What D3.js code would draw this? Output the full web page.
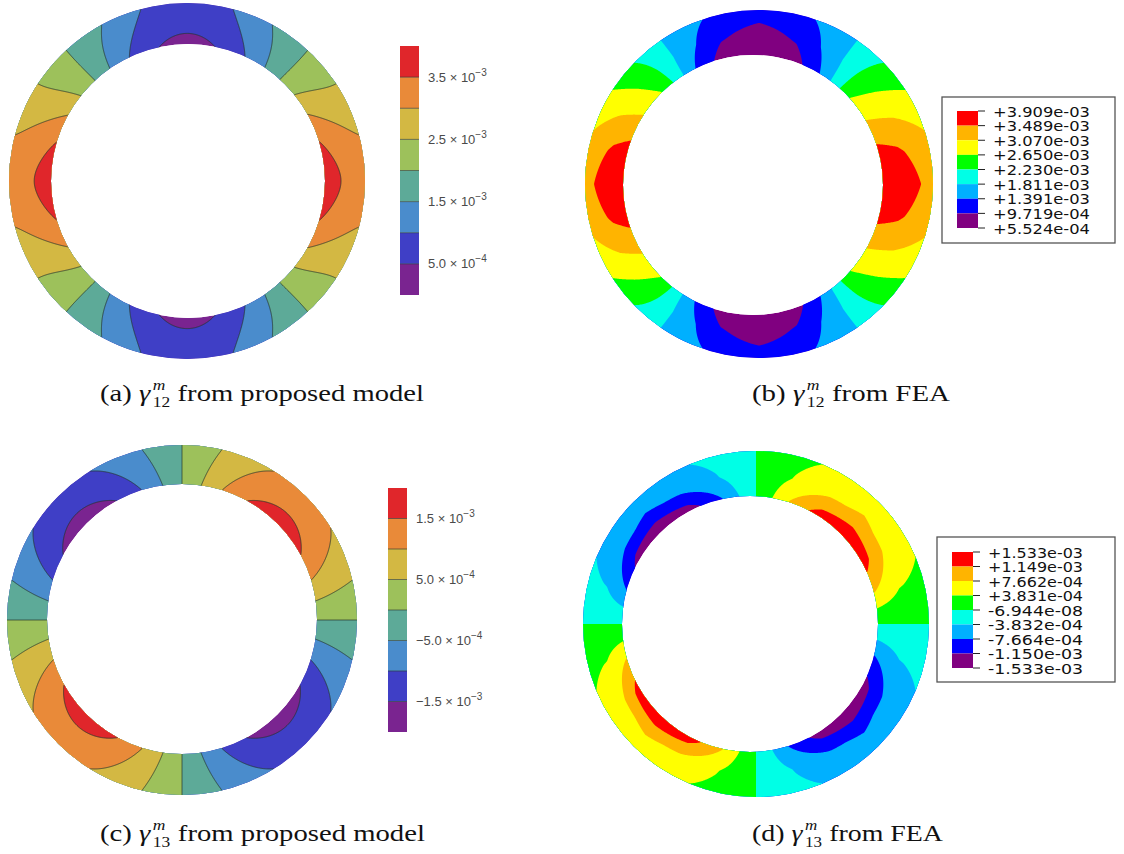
<!DOCTYPE html>
<html>
<head>
<meta charset="utf-8">
<script src="https://cdn.jsdelivr.net/npm/d3@7"></script>
<style>
  body { margin: 0; background: #fff; }
  .cap { font-family: "Liberation Serif", "DejaVu Serif", serif; font-size: 23px; fill: #111; }
  .capsm { font-family: "Liberation Serif", "DejaVu Serif", serif; font-size: 14px; fill: #111; }
  .cbar { font-family: "Liberation Sans", Arial, sans-serif; font-size: 13px; fill: #4a4a4a; }
  .leg { font-family: "DejaVu Sans", Verdana, sans-serif; font-size: 14.5px; fill: #111; }
</style>
</head>
<body>
<svg id="fig" width="1124" height="854"></svg>
<script>
// angular positions of the read-off nodes (deg, counter-clockwise from +x)
const nodeAngles = [0, 15, 30, 45, 60, 75, 90, 105, 120, 135, 150, 165,
                    180, 195, 210, 225, 240, 255, 270, 285, 300, 315, 330, 345];

// (a) gamma12, proposed model  (x 1e-3) : inner edge / mid-thickness / outer edge
const g12ModelInner = [3.80, 3.55, 2.95, 2.15, 1.25, 0.60, 0.30, 0.60, 1.25, 2.15, 2.95, 3.55,
                       3.80, 3.55, 2.95, 2.15, 1.25, 0.60, 0.30, 0.60, 1.25, 2.15, 2.95, 3.55];
const g12ModelMid   = [3.45, 3.20, 2.70, 2.10, 1.40, 0.85, 0.65, 0.85, 1.40, 2.10, 2.70, 3.20,
                       3.45, 3.20, 2.70, 2.10, 1.40, 0.85, 0.65, 0.85, 1.40, 2.10, 2.70, 3.20];
const g12ModelOuter = [3.35, 3.00, 2.60, 2.08, 1.55, 1.00, 0.85, 1.00, 1.55, 2.08, 2.60, 3.00,
                       3.35, 3.00, 2.60, 2.08, 1.55, 1.00, 0.85, 1.00, 1.55, 2.08, 2.60, 3.00];
const g12ModelLevels = [0, 0.5, 1.0, 1.5, 2.0, 2.5, 3.0, 3.5, 4.0];
const g12ModelTicks = [3.5, 2.5, 1.5, 0.5];
const g12ModelTickMant = ["3.5", "2.5", "1.5", "5.0"];
const g12ModelTickExp = ["\u22123", "\u22123", "\u22123", "\u22124"];

// (b) gamma12, FEA (x 1e-3)
const g12FeaInner = [3.95, 3.62, 3.10, 2.60, 1.45, 0.73, 0.60, 0.73, 1.45, 2.60, 3.10, 3.62,
                     3.95, 3.62, 3.10, 2.60, 1.45, 0.73, 0.60, 0.73, 1.45, 2.60, 3.10, 3.62];
const g12FeaMid   = [3.70, 3.45, 2.95, 2.40, 1.60, 1.05, 0.80, 1.05, 1.60, 2.40, 2.95, 3.45,
                     3.70, 3.45, 2.95, 2.40, 1.60, 1.05, 0.80, 1.05, 1.60, 2.40, 2.95, 3.45];
const g12FeaOuter = [3.30, 3.15, 2.75, 2.20, 1.65, 1.30, 1.20, 1.30, 1.65, 2.20, 2.75, 3.15,
                     3.30, 3.15, 2.75, 2.20, 1.65, 1.30, 1.20, 1.30, 1.65, 2.20, 2.75, 3.15];
const g12FeaLevels = [0.5524, 0.9719, 1.391, 1.811, 2.230, 2.650, 3.070, 3.489, 3.909];
const g12FeaLabels = ["+3.909e-03", "+3.489e-03", "+3.070e-03", "+2.650e-03", "+2.230e-03",
                      "+1.811e-03", "+1.391e-03", "+9.719e-04", "+5.524e-04"];

// (c) gamma13, proposed model (x 1e-3)
const g13ModelInner = [0, 0.89, 1.54, 1.78, 1.54, 0.89, 0, -0.89, -1.54, -1.78, -1.54, -0.89,
                       0, 0.89, 1.54, 1.78, 1.54, 0.89, 0, -0.89, -1.54, -1.78, -1.54, -0.89];
const g13ModelMid   = [0, 0.70, 1.21, 1.40, 1.21, 0.70, 0, -0.70, -1.21, -1.40, -1.21, -0.70,
                       0, 0.70, 1.21, 1.40, 1.21, 0.70, 0, -0.70, -1.21, -1.40, -1.21, -0.70];
const g13ModelOuter = [0, 0.56, 0.97, 1.10, 0.97, 0.56, 0, -0.56, -0.97, -1.10, -0.97, -0.56,
                       0, 0.56, 0.97, 1.10, 0.97, 0.56, 0, -0.56, -0.97, -1.10, -0.97, -0.56];
const g13ModelLevels = [-2.0, -1.5, -1.0, -0.5, 0, 0.5, 1.0, 1.5, 2.0];
const g13ModelTicks = [1.5, 0.5, -0.5, -1.5];
const g13ModelTickMant = ["1.5", "5.0", "\u22125.0", "\u22121.5"];
const g13ModelTickExp = ["\u22123", "\u22124", "\u22124", "\u22123"];

// (d) gamma13, FEA (x 1e-3)
const g13FeaInner = [0, 0.78, 1.34, 1.53, 1.34, 0.78, 0, -0.78, -1.34, -1.53, -1.34, -0.78,
                     0, 0.78, 1.34, 1.53, 1.34, 0.78, 0, -0.78, -1.34, -1.53, -1.34, -0.78];
const g13FeaMid   = [0, 0.41, 0.71, 0.82, 0.71, 0.41, 0, -0.41, -0.71, -0.82, -0.71, -0.41,
                     0, 0.41, 0.71, 0.82, 0.71, 0.41, 0, -0.41, -0.71, -0.82, -0.71, -0.41];
const g13FeaOuter = [0, 0.28, 0.48, 0.55, 0.48, 0.28, 0, -0.28, -0.48, -0.55, -0.48, -0.28,
                     0, 0.28, 0.48, 0.55, 0.48, 0.28, 0, -0.28, -0.48, -0.55, -0.48, -0.28];
const g13FeaLevels = [-1.533, -1.150, -0.7664, -0.3832, -0.00006944, 0.3831, 0.7662, 1.149, 1.533];
const g13FeaLabels = ["+1.533e-03", "+1.149e-03", "+7.662e-04", "+3.831e-04", "-6.944e-08",
                      "-3.832e-04", "-7.664e-04", "-1.150e-03", "-1.533e-03"];

// colours, low -> high
const modelColors = ["#7a2490", "#3f3fc6", "#4a8ccc", "#5daa98", "#9dc15b", "#d3b843", "#e98a39", "#e0262b"];
const feaColors = ["#800080", "#0000ff", "#00b0ff", "#00ffe6", "#00ff00", "#ffff00", "#ffb400", "#ff0000"];

const captionLabels = ["a", "b", "c", "d"];
const captionSubs = ["12", "12", "13", "13"];
const captionTexts = ["from proposed model", "from FEA", "from proposed model", "from FEA"];

const svg = d3.select("#fig");

// closed Catmull-Rom through the nodes (smooth analytic-looking field)
function closedCubic(values) {
    const n = values.length, step = 360 / n;
    return deg => {
        const u = deg / step, i = Math.floor(u), f = u - i;
        const p0 = values[(i - 1 + n) % n], p1 = values[i % n];
        const p2 = values[(i + 1) % n], p3 = values[(i + 2) % n];
        return 0.5 * (2 * p1 + (-p0 + p2) * f + (2 * p0 - 5 * p1 + 4 * p2 - p3) * f * f
            + (-p0 + 3 * p1 - 3 * p2 + p3) * f * f * f);
    };
}

// piecewise linear between nodes (FE mesh look)
function closedLinear(values) {
    const sc = d3.scaleLinear().domain(nodeAngles.concat([360])).range(values.concat([values[0]]));
    return deg => sc(deg);
}

function drawRing(id, ring, inner, mid, outer, levels, colors, smooth) {
    const ang = smooth ? closedCubic : closedLinear;
    const fi = ang(inner), fm = ang(mid), fo = ang(outer);
    const ox = ring.icx - ring.cx, oy = ring.cy - ring.icy;
    const pad = 3;
    const x0 = Math.floor(ring.cx - ring.ro - pad), y0 = Math.floor(ring.cy - ring.ro - pad);
    const w = Math.ceil(2 * ring.ro + 2 * pad), h = w;
    const values = new Float64Array(w * h);
    for (let j = 0; j < h; j++) {
        for (let i = 0; i < w; i++) {
            const dx = x0 + i + 0.5 - ring.cx, dy = ring.cy - (y0 + j + 0.5);
            const d = Math.hypot(dx, dy);
            let th = Math.atan2(dy, dx) * 180 / Math.PI;
            if (th < 0) th += 360;
            let s = 0;
            if (d > 1) {
                const ux = dx / d, uy = dy / d, b = ux * ox + uy * oy;
                const rin = b + Math.sqrt(ring.ri * ring.ri - (ox * ox + oy * oy) + b * b);
                s = Math.max(0, Math.min(1, (d - rin) / (ring.ro - rin)));
            }
            const a = fi(th), m = fm(th), c = fo(th);
            let v;
            if (smooth) {
                v = a * (2 * s - 1) * (s - 1) + m * 4 * s * (1 - s) + c * s * (2 * s - 1);
            } else {
                v = s < 0.5 ? a + (m - a) * s * 2 : m + (c - m) * (s - 0.5) * 2;
            }
            values[j * w + i] = v;
        }
    }

    const clipId = "clip-" + id;
    const ringPath = `M${ring.cx + ring.ro},${ring.cy}A${ring.ro},${ring.ro} 0 1 0 ${ring.cx - ring.ro},${ring.cy}`
        + `A${ring.ro},${ring.ro} 0 1 0 ${ring.cx + ring.ro},${ring.cy}Z`
        + `M${ring.icx + ring.ri},${ring.icy}A${ring.ri},${ring.ri} 0 1 0 ${ring.icx - ring.ri},${ring.icy}`
        + `A${ring.ri},${ring.ri} 0 1 0 ${ring.icx + ring.ri},${ring.icy}Z`;
    svg.append("clipPath").attr("id", clipId)
        .append("path").attr("d", ringPath).attr("clip-rule", "evenodd");

    const g = svg.append("g").attr("clip-path", `url(#${clipId})`);
    g.append("path").attr("d", ringPath).attr("fill-rule", "evenodd").attr("fill", colors[0]);

    const bands = d3.contours().size([w, h]).thresholds(levels.slice(1, -1))(values);
    const geo = d3.geoPath();
    const cg = g.append("g").attr("transform", `translate(${x0},${y0})`);
    cg.selectAll("path.band").data(bands).join("path")
        .attr("class", "band")
        .attr("d", geo)
        .attr("fill", (d, i) => colors[i + 1]);
    if (smooth) {
        cg.selectAll("path.iso").data(bands).join("path")
            .attr("class", "iso")
            .attr("d", geo)
            .attr("fill", "none")
            .attr("stroke", "#27362e")
            .attr("stroke-width", 0.9)
            .attr("stroke-opacity", 0.85);
    }
}

function drawModelBar(x, top, bottom, levels, colors, ticks, mant, exps) {
    const y = d3.scaleLinear().domain([levels[0], levels[levels.length - 1]]).range([bottom, top]);
    const g = svg.append("g");
    g.selectAll("rect").data(colors).join("rect")
        .attr("x", x).attr("width", 19)
        .attr("y", (d, i) => y(levels[i + 1]))
        .attr("height", (d, i) => y(levels[i]) - y(levels[i + 1]))
        .attr("fill", d => d);
    g.selectAll("line").data(levels.slice(1, -1)).join("line")
        .attr("x1", x).attr("x2", x + 19)
        .attr("y1", d => y(d)).attr("y2", d => y(d))
        .attr("stroke", "#2d3a33").attr("stroke-width", 0.8).attr("stroke-opacity", 0.8);
    ticks.forEach((t, i) => {
        const tx = g.append("text").attr("class", "cbar")
            .attr("x", x + 28).attr("y", y(t) + 4.5);
        tx.append("tspan").text(mant[i] + " \u00d7 10");
        tx.append("tspan").attr("dy", -6).attr("font-size", "10px").text(exps[i]);
    });
}

function drawFeaLegend(box, sw, labels, colors) {
    svg.append("rect").attr("x", box.x).attr("y", box.y).attr("width", box.w).attr("height", box.h)
        .attr("fill", "#fff").attr("stroke", "#555").attr("stroke-width", 1.3);
    const y = d3.scaleLinear().domain([0, colors.length]).range([sw.top, sw.bottom]);
    const top2bottom = colors.slice().reverse();
    svg.selectAll(null).data(top2bottom).join("rect")
        .attr("x", sw.x).attr("width", 21)
        .attr("y", (d, i) => y(i)).attr("height", (d, i) => y(i + 1) - y(i))
        .attr("fill", d => d);
    svg.selectAll(null).data(labels).join("line")
        .attr("x1", sw.x + 21).attr("x2", sw.x + 28)
        .attr("y1", (d, i) => y(i)).attr("y2", (d, i) => y(i))
        .attr("stroke", "#222").attr("stroke-width", 1);
    svg.selectAll(null).data(labels).join("text")
        .attr("class", "leg")
        .attr("x", sw.x + 36).attr("y", (d, i) => y(i) + 5.5)
        .attr("textLength", sw.tl).attr("lengthAdjust", "spacingAndGlyphs")
        .text(d => d);
}

function caption(x, y, idx, width) {
    const g = svg.append("g");
    const t = g.append("text").attr("class", "cap").attr("x", x).attr("y", y)
        .text(`(${captionLabels[idx]}) `);
    t.append("tspan").attr("font-style", "italic").text("\u03b3");
    const w = t.node().getComputedTextLength() + 2;
    g.append("text").attr("class", "capsm").attr("font-style", "italic")
        .attr("x", x + w).attr("y", y - 11).text("m");
    const s = g.append("text").attr("class", "capsm")
        .attr("x", x + w).attr("y", y + 6).text(captionSubs[idx]);
    const sw = s.node().getComputedTextLength();
    const r = g.append("text").attr("class", "cap").attr("x", x + w + sw + 6).attr("y", y)
        .text(captionTexts[idx]);
    const total = w + sw + 6 + r.node().getComputedTextLength();
    const k = width / total;
    g.attr("transform", `translate(${x},0) scale(${k},1) translate(${-x},0)`);
}

// (a)
drawRing("a", {cx: 187, cy: 181, ro: 178, icx: 188, icy: 181, ri: 137},
    g12ModelInner, g12ModelMid, g12ModelOuter, g12ModelLevels, modelColors, true);
drawModelBar(400, 46, 295, g12ModelLevels, modelColors, g12ModelTicks, g12ModelTickMant, g12ModelTickExp);

// (b)
drawRing("b", {cx: 759, cy: 184, ro: 174, icx: 753, icy: 185, ri: 130},
    g12FeaInner, g12FeaMid, g12FeaOuter, g12FeaLevels, feaColors, false);
drawFeaLegend({x: 942, y: 97, w: 173, h: 146}, {x: 957, top: 111, bottom: 228, tl: 97},
    g12FeaLabels, feaColors);

// (c)
drawRing("c", {cx: 182, cy: 620, ro: 175, icx: 182, icy: 619, ri: 135},
    g13ModelInner, g13ModelMid, g13ModelOuter, g13ModelLevels, modelColors, true);
drawModelBar(388, 488, 732, g13ModelLevels, modelColors, g13ModelTicks, g13ModelTickMant, g13ModelTickExp);

// (d)
drawRing("d", {cx: 756, cy: 624, ro: 173, icx: 750, icy: 624, ri: 128},
    g13FeaInner, g13FeaMid, g13FeaOuter, g13FeaLevels, feaColors, false);
drawFeaLegend({x: 937, y: 537, w: 178, h: 145}, {x: 952, top: 552, bottom: 668, tl: 95},
    g13FeaLabels, feaColors);

caption(100, 401, 0, 324);
caption(752, 401, 1, 198);
caption(100, 841, 2, 325);
caption(752, 841, 3, 191);
</script>
</body>
</html>
